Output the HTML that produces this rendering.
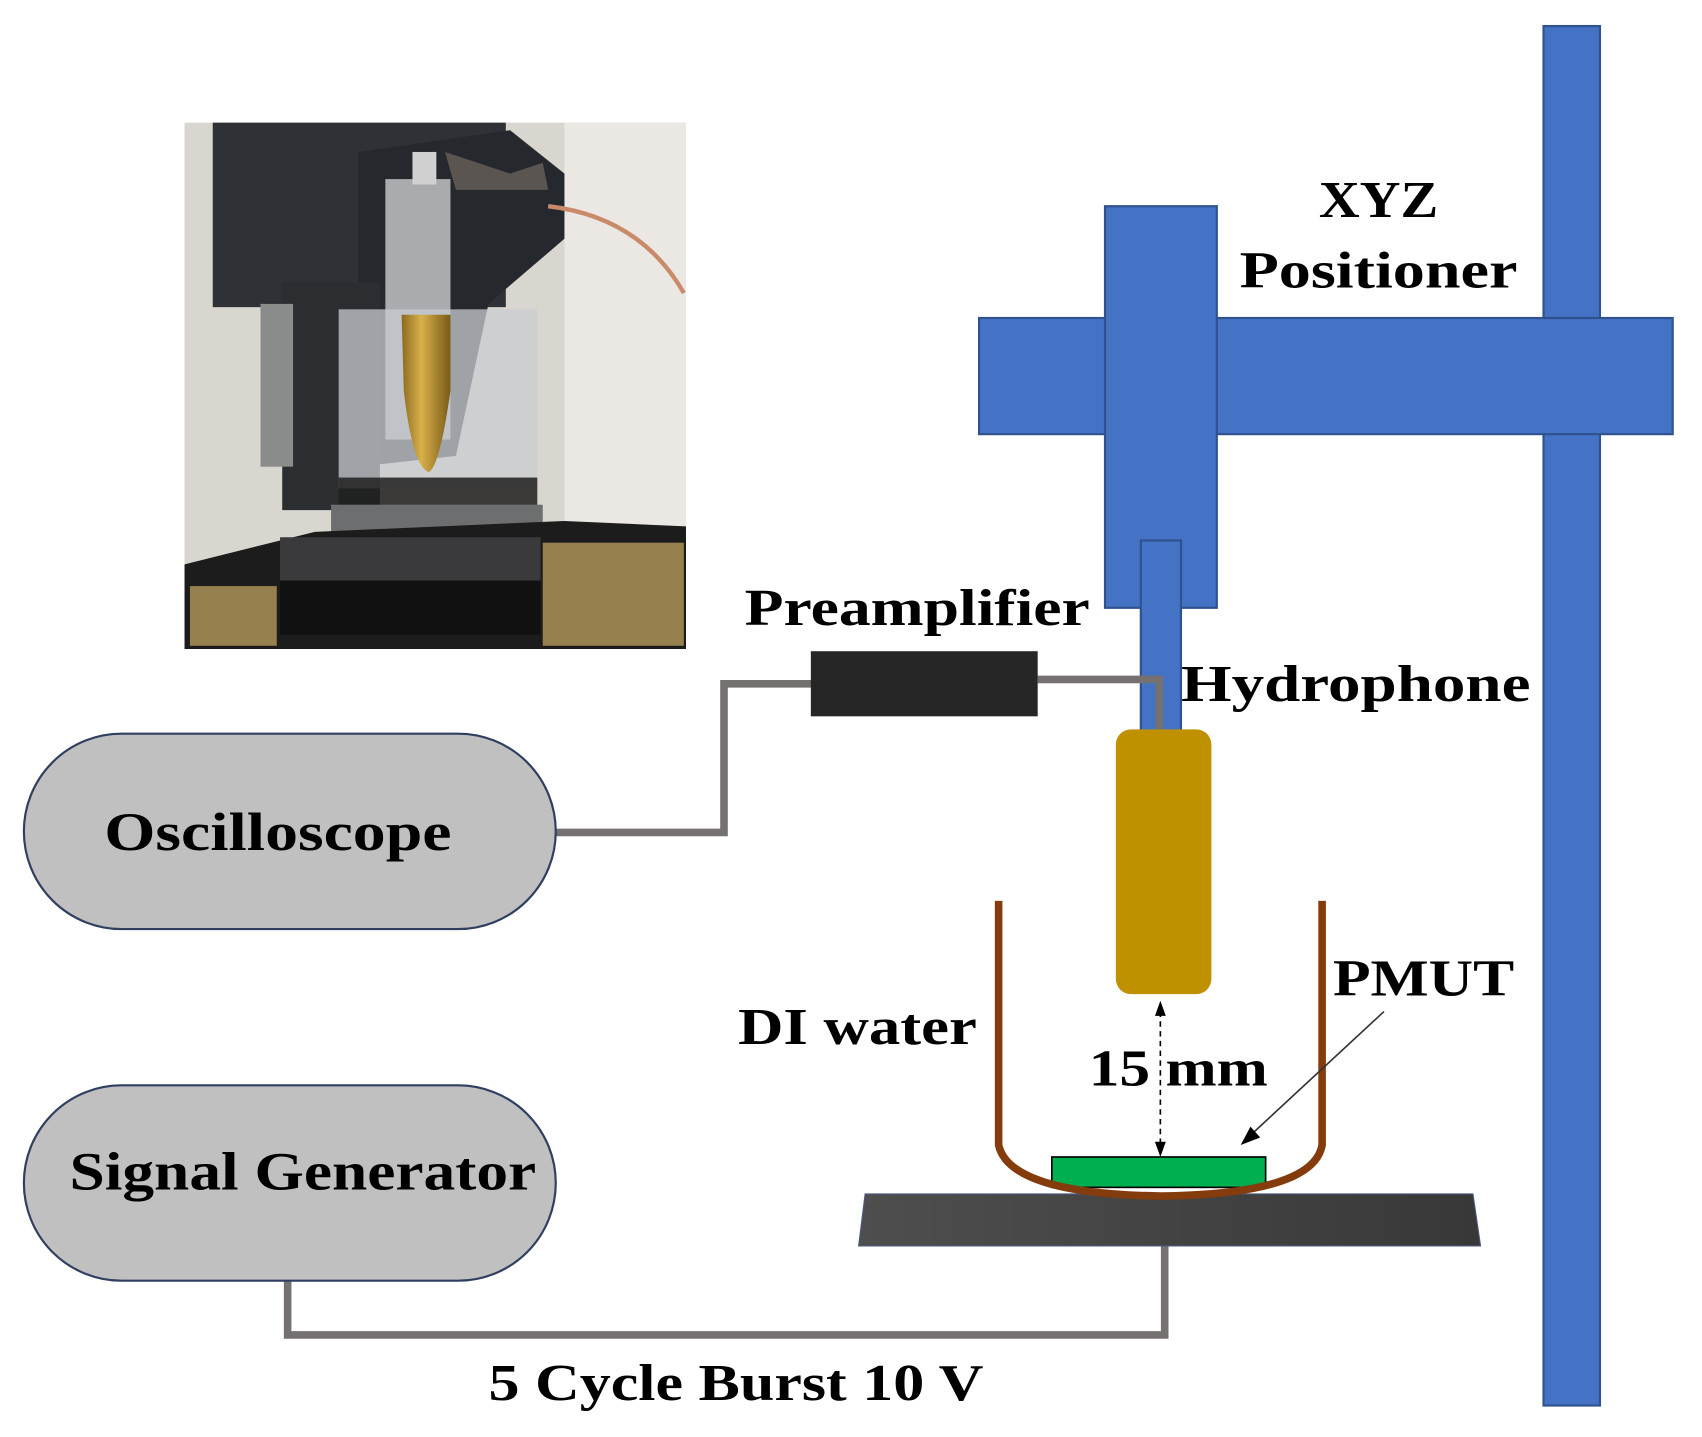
<!DOCTYPE html>
<html><head><meta charset="utf-8"><style>
html,body{margin:0;padding:0;background:#fff;}
svg{display:block;}
text{font-family:"Liberation Serif",serif;font-weight:bold;fill:#000;}
</style></head><body>
<svg width="1702" height="1437" viewBox="0 0 1568 1324" preserveAspectRatio="none" xmlns="http://www.w3.org/2000/svg">
<defs>
<linearGradient id="stage" x1="0" x2="1" y1="0" y2="0"><stop offset="0" stop-color="#4e4e4e"/><stop offset="1" stop-color="#383838"/></linearGradient>
<linearGradient id="gold" x1="0" x2="1"><stop offset="0" stop-color="#8a6a20"/><stop offset="0.4" stop-color="#d8b04a"/><stop offset="1" stop-color="#7a5a18"/></linearGradient>
</defs>
<g>
<rect x="170" y="113" width="462" height="485" fill="#d9d6d0"/>
<rect x="520" y="113" width="112" height="380" fill="#ebe8e3"/>
<rect x="196" y="113" width="270" height="170" fill="#2e3236"/>
<path d="M330 140 L470 120 L520 160 L520 220 L450 280 L420 420 L330 430 Z" fill="#25292d"/>
<rect x="260" y="260" width="90" height="210" fill="#2a2e31"/>
<rect x="240" y="280" width="30" height="150" fill="#8a8c8c"/>
<rect x="355" y="165" width="60" height="240" fill="#a9acae"/>
<rect x="380" y="140" width="22" height="30" fill="#d0d0d0"/>
<path d="M410 140 L470 160 L500 150 L505 175 L420 175 Z" fill="#5a5550"/>
<path d="M505 190 Q590 200 630 270" stroke="#c98a6a" stroke-width="4" fill="none"/>
<rect x="312" y="285" width="183" height="165" fill="#c8ccd0" opacity="0.75"/>
<path d="M370 290 L415 290 L415 360 Q405 430 395 435 Q380 430 372 360 Z" fill="url(#gold)"/>
<rect x="312" y="440" width="183" height="30" fill="#1e1e1e" opacity="0.85"/>
<rect x="305" y="465" width="195" height="30" fill="#6c6e70"/>
<path d="M170 520 L290 490 L520 480 L632 485 L632 598 L170 598 Z" fill="#1c1c1c"/>
<g fill="#b59a5a" opacity="0.8">
<rect x="175" y="540" width="80" height="55"/>
<rect x="500" y="500" width="130" height="95"/>
</g>
<rect x="258" y="495" width="240" height="40" fill="#3a3a3c"/>
<rect x="258" y="535" width="240" height="50" fill="#111"/>
</g>
<g fill="#4472C4" stroke="#2F528F" stroke-width="2">
<rect x="1422" y="24" width="52" height="1271"/>
<rect x="902" y="293" width="639" height="107"/>
<rect x="1018" y="190" width="103" height="370"/>
<rect x="1051" y="498" width="37" height="184"/>
</g>
<g fill="none" stroke="#767171" stroke-width="7">
<polyline points="956,626 1068,626 1068,675"/>
<polyline points="750,630 667,630 667,767 493,767"/>
<polyline points="265,1180 265,1230 1073,1230 1073,1148"/>
</g>
<rect x="747" y="600" width="209" height="60" fill="#262626"/>
<rect x="1028" y="672" width="88" height="244" rx="14" fill="#BF9000"/>
<rect x="22" y="676" width="490" height="180" rx="90" fill="#C0C0C0" stroke="#2F3F60" stroke-width="2"/>
<rect x="22" y="1000" width="490" height="180" rx="90" fill="#C0C0C0" stroke="#2F3F60" stroke-width="2"/>
<polygon points="797,1100 1357,1100 1364,1148 791,1148" fill="url(#stage)" stroke="#4a5a80" stroke-width="1"/>
<rect x="969" y="1066" width="197" height="28" fill="#00B050" stroke="#000" stroke-width="1.5"/>
<path d="M920 830 L920 1055 Q930 1100 1070 1102 Q1210 1100 1218 1055 L1218 830" fill="none" stroke="#843C0C" stroke-width="7"/>
<line x1="1069" y1="932" x2="1069" y2="1056" stroke="#000" stroke-width="1.5" stroke-dasharray="5,4"/>
<polygon points="1069,922 1064,936 1074,936"/>
<polygon points="1069,1066 1064,1052 1074,1052"/>
<line x1="1275" y1="932" x2="1152" y2="1046" stroke="#333" stroke-width="1.5"/>
<polygon points="1143,1055 1152,1038 1161,1048" fill="#000"/>
<text x="1270" y="200" font-size="48" text-anchor="middle" textLength="110" lengthAdjust="spacingAndGlyphs">XYZ</text>
<text x="1142" y="265" font-size="48" textLength="256" lengthAdjust="spacingAndGlyphs">Positioner</text>
<text x="686" y="576" font-size="48" textLength="318" lengthAdjust="spacingAndGlyphs">Preamplifier</text>
<text x="1088" y="646" font-size="48" textLength="322" lengthAdjust="spacingAndGlyphs">Hydrophone</text>
<text x="96" y="783" font-size="50" textLength="320" lengthAdjust="spacingAndGlyphs">Oscilloscope</text>
<text x="64" y="1096" font-size="50" textLength="430" lengthAdjust="spacingAndGlyphs">Signal Generator</text>
<text x="680" y="962" font-size="48" textLength="220" lengthAdjust="spacingAndGlyphs">DI water</text>
<text x="1003" y="1000" font-size="48" textLength="165" lengthAdjust="spacingAndGlyphs">15 mm</text>
<text x="1228" y="917" font-size="48" textLength="167" lengthAdjust="spacingAndGlyphs">PMUT</text>
<text x="450" y="1290" font-size="48" textLength="456" lengthAdjust="spacingAndGlyphs">5 Cycle Burst 10 V</text>
</svg>
</body></html>
